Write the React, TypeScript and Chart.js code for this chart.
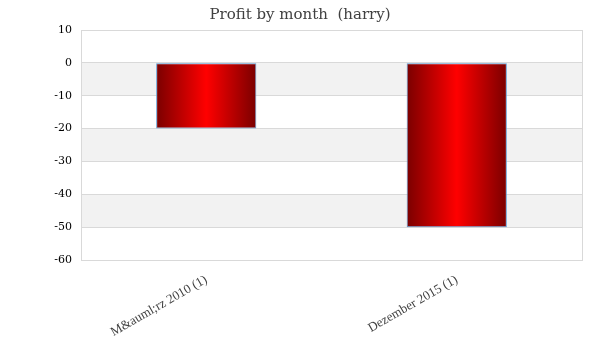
import React, { useEffect, useRef } from "react";
import { Chart, registerables } from "chart.js";

Chart.register(...registerables);

const categories = ["M&auml;rz 2010 (1)", "Dezember 2015 (1)"];
const profit = [-20, -50];
const yMin = -60;
const yMax = 10;
const yStep = 10;

const bandsPlugin = {
  id: "bands",
  beforeDraw(chart: any) {
    const { ctx, chartArea } = chart;
    const y = chart.scales.y;
    ctx.save();
    ctx.fillStyle = "#f2f2f2";
    for (let v = 0; v > yMin; v -= 2 * yStep) {
      const top = y.getPixelForValue(v);
      const bot = y.getPixelForValue(v - yStep);
      ctx.fillRect(chartArea.left, top, chartArea.right - chartArea.left, bot - top);
    }
    ctx.restore();
  },
  afterDraw(chart: any) {
    const { ctx, chartArea } = chart;
    ctx.save();
    ctx.strokeStyle = "#d9d9d9";
    ctx.lineWidth = 1;
    ctx.strokeRect(
      Math.round(chartArea.left) + 0.5,
      Math.round(chartArea.top) + 0.5,
      Math.round(chartArea.right - chartArea.left),
      Math.round(chartArea.bottom - chartArea.top)
    );
    ctx.restore();
  },
};

export default function App() {
  const ref = useRef<HTMLCanvasElement>(null);
  useEffect(() => {
    if (!ref.current) return;
    const chart = new Chart(ref.current, {
      type: "bar",
      data: {
        labels: categories,
        datasets: [
          {
            label: "Profit",
            data: profit,
            borderColor: "#5b9bd5",
            borderWidth: 1,
            borderSkipped: false,
            barPercentage: 0.4,
            categoryPercentage: 1,
            backgroundColor: (c: any) => {
              const ch = c.chart;
              const xs = ch.scales && ch.scales.x;
              const area = ch.chartArea;
              if (!xs || !area) return "#ff0000";
              const cx = xs.getPixelForValue(c.dataIndex);
              const w = ((area.right - area.left) / categories.length) * 0.4;
              const g = ch.ctx.createLinearGradient(cx - w / 2, 0, cx + w / 2, 0);
              g.addColorStop(0, "#7a0000");
              g.addColorStop(0.5, "#ff0000");
              g.addColorStop(1, "#7a0000");
              return g;
            },
          },
        ],
      },
      options: {
        animation: false,
        responsive: false,
        layout: { padding: { left: 18, right: 18, top: 0, bottom: 0 } },
        plugins: {
          legend: { display: false },
          tooltip: { enabled: false },
          title: {
            display: true,
            text: "Profit by month  (harry)",
            color: "#404040",
            font: { family: "'DejaVu Serif', serif", size: 15, weight: "normal" },
            padding: { top: 6, bottom: 6 },
          },
        },
        scales: {
          x: {
            grid: { display: false, drawTicks: false },
            border: { display: false },
            ticks: {
              color: "#404040",
              font: { family: "'Liberation Serif', serif", size: 13 },
              minRotation: 30,
              maxRotation: 30,
              padding: 12,
            },
            afterFit: (s: any) => {
              s.height = 100;
            },
          },
          y: {
            min: yMin,
            max: yMax,
            grid: { color: "#d9d9d9", drawTicks: false },
            border: { display: false },
            ticks: {
              stepSize: yStep,
              color: "#000000",
              font: { family: "'DejaVu Serif', serif", size: 11 },
              padding: 9,
            },
            afterFit: (s: any) => {
              s.width = 63;
            },
          },
        },
      },
      plugins: [bandsPlugin],
    });
    return () => chart.destroy();
  }, []);
  return (
    <div style={{ position: "fixed", left: 0, top: 0, width: 600, height: 360, background: "#fff" }}>
      <canvas ref={ref} width={600} height={360} />
    </div>
  );
}
